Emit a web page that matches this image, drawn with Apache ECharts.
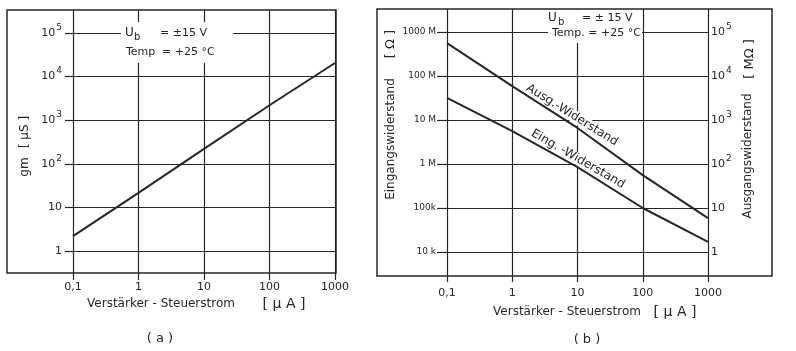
<!DOCTYPE html>
<html>
<head>
<meta charset="utf-8">
<script src="https://cdn.jsdelivr.net/npm/echarts@6/dist/echarts.min.js"></script>
<style>
body { margin: 0; background: #fff; }
#chart { width: 796px; height: 351px; }
</style>
</head>
<body>
<div id="chart"></div>
<script>
// (a) gm vs. control current
const currentA = [0.1, 1, 10, 100, 1000];
const gmValues = [2.2, 21.5, 220, 2200, 20500];

// (b) resistances vs. control current
const currentB = [0.1, 1, 10, 100, 1000];
const ausgValues = [56000, 5900, 660, 56, 5.9];          // MΩ, right axis
const eingValues = [3.2e7, 5.6e6, 8.5e5, 1.0e5, 1.7e4];  // Ω, left axis

// tick labels, indexed by decade
const xTickLabels = ['0,1', '1', '10', '100', '1000'];                        // 10^-1 .. 10^3
const gmTickLabels = ['1', '10', '10{s|2}', '10{s|3}', '10{s|4}', '10{s|5}'];   // 10^0 .. 10^5
const ohmTickLabels = ['10 k', '100k', '1 M', '10 M', '100 M', '1000 M'];     // 10^4 .. 10^9
const megTickLabels = ['1', '10', '10{s|2}', '10{s|3}', '10{s|4}', '10{s|5}'];  // 10^0 .. 10^5

const ink = '#262626';
const font = 'DejaVu Sans';

function dec(v) { return Math.round(Math.log10(v)); }

const gridLine = { show: true, lineStyle: { color: ink, width: 1.2 } };
const powRich = {
  s: { fontSize: 9, fontFamily: font, color: ink, lineHeight: 20, verticalAlign: 'top', padding: [0, 0, 0, 1] }
};

function xAxisFor(grid, pos, tickLen, margin, labels) {
  return {
    type: 'log', logBase: 10, min: 0.1, max: 1000, gridIndex: grid, position: pos,
    axisLine: { show: false },
    axisTick: { show: true, length: tickLen, lineStyle: { color: ink, width: 1.2 } },
    axisLabel: labels ? {
      show: true, margin: margin, color: ink, fontFamily: font, fontSize: 11,
      formatter: v => xTickLabels[dec(v) + 1]
    } : { show: false },
    splitLine: labels ? gridLine : { show: false }
  };
}

function txt(text, x, y, opts) {
  const o = opts || {};
  return {
    type: 'text', x: x, y: y, rotation: o.rot || 0, z: 60,
    style: {
      text: text, fill: ink, fontFamily: font, fontSize: o.size || 11,
      align: o.align || 'center', verticalAlign: 'middle',
      backgroundColor: o.bg, padding: o.pad
    }
  };
}

function mask(x, y, w, h) {
  return { type: 'rect', z: 55, shape: { x: x, y: y, width: w, height: h }, style: { fill: '#fff' } };
}

const chart = echarts.init(document.getElementById('chart'));

chart.setOption({
  animation: false,
  backgroundColor: '#fff',
  grid: [
    { left: 73, top: 33, width: 262, height: 218 },
    { left: 447, top: 32, width: 261, height: 220 }
  ],
  xAxis: [
    xAxisFor(0, 'bottom', 29, 31, true),
    xAxisFor(0, 'top', 23, 0, false),
    xAxisFor(1, 'bottom', 30, 36, true),
    xAxisFor(1, 'top', 23, 0, false)
  ],
  yAxis: [
    {
      type: 'log', logBase: 10, min: 1, max: 1e5, gridIndex: 0,
      axisLine: { show: false },
      axisTick: { show: true, length: 8, lineStyle: { color: ink, width: 1.2 } },
      axisLabel: { margin: 11, color: ink, fontFamily: font, fontSize: 11, lineHeight: 20,
        rich: powRich, formatter: v => gmTickLabels[dec(v)] },
      splitLine: gridLine
    },
    {
      type: 'log', logBase: 10, min: 1e4, max: 1e9, gridIndex: 1,
      axisLine: { show: false },
      axisTick: { show: true, length: 10, lineStyle: { color: ink, width: 1.2 } },
      axisLabel: { margin: 11, color: ink, fontFamily: font, fontSize: 9,
        formatter: v => ohmTickLabels[dec(v) - 4] },
      splitLine: gridLine
    },
    {
      type: 'log', logBase: 10, min: 1, max: 1e5, gridIndex: 1, position: 'right',
      axisLine: { show: false },
      axisTick: { show: false },
      axisLabel: { margin: 3, color: ink, fontFamily: font, fontSize: 11, lineHeight: 20,
        rich: powRich, formatter: v => megTickLabels[dec(v)] },
      splitLine: { show: false }
    }
  ],
  series: [
    {
      type: 'line', xAxisIndex: 0, yAxisIndex: 0, showSymbol: false, silent: true,
      lineStyle: { color: ink, width: 2 },
      data: currentA.map((c, i) => [c, gmValues[i]])
    },
    {
      type: 'line', xAxisIndex: 2, yAxisIndex: 2, showSymbol: false, silent: true,
      lineStyle: { color: ink, width: 2 },
      data: currentB.map((c, i) => [c, ausgValues[i]])
    },
    {
      type: 'line', xAxisIndex: 2, yAxisIndex: 1, showSymbol: false, silent: true,
      lineStyle: { color: ink, width: 2 },
      data: currentB.map((c, i) => [c, eingValues[i]])
    }
  ],
  graphic: [
    // frames
    { type: 'rect', z: 40, shape: { x: 7, y: 10, width: 329, height: 263 },
      style: { fill: null, stroke: ink, lineWidth: 1.5 } },
    { type: 'rect', z: 40, shape: { x: 377, y: 9, width: 395, height: 267 },
      style: { fill: null, stroke: ink, lineWidth: 1.5 } },

    // (a) conditions box
    mask(121, 22, 112, 41),
    txt('U', 125, 33, { align: 'left', size: 12 }),
    txt('b', 134, 37, { align: 'left', size: 10 }),
    txt('= ±15 V', 160, 33, { align: 'left', size: 11 }),
    txt('Temp', 126, 52, { align: 'left', size: 11 }),
    txt('= +25 °C', 162, 52, { align: 'left', size: 11 }),

    // (b) conditions box
    mask(548, 10, 94, 33),
    txt('U', 548, 18, { align: 'left', size: 12 }),
    txt('b', 558, 22, { align: 'left', size: 10 }),
    txt('= ± 15 V', 582, 18, { align: 'left', size: 11 }),
    txt('Temp. = +25 °C', 552, 33, { align: 'left', size: 11 }),

    // axis names (a)
    txt('gm', 25, 167, { rot: Math.PI / 2, size: 12 }),
    txt('[ μS ]', 25, 132, { rot: Math.PI / 2, size: 12 }),
    txt('Verstärker - Steuerstrom', 161, 304, { size: 12 }),
    txt('[ μ A ]', 284, 304, { size: 14 }),
    txt('( a )', 160, 339, { size: 13 }),

    // axis names (b)
    txt('Eingangswiderstand', 391, 139, { rot: Math.PI / 2, size: 12 }),
    txt('[ Ω ]', 391, 44, { rot: Math.PI / 2, size: 13 }),
    txt('Ausgangswiderstand', 748, 156, { rot: Math.PI / 2, size: 12 }),
    txt('[ MΩ ]', 750, 59, { rot: Math.PI / 2, size: 13 }),
    txt('Verstärker - Steuerstrom', 567, 312, { size: 12 }),
    txt('[ μ A ]', 675, 312, { size: 14 }),
    txt('( b )', 587, 340, { size: 13 }),

    // curve labels
    txt('Ausg.-Widerstand', 572, 115, { rot: -32 * Math.PI / 180, size: 12, bg: '#fff', pad: [0, 2] }),
    txt('Eing. -Widerstand', 578, 159, { rot: -30 * Math.PI / 180, size: 12, bg: '#fff', pad: [0, 2] })
  ]
});
</script>
</body>
</html>
